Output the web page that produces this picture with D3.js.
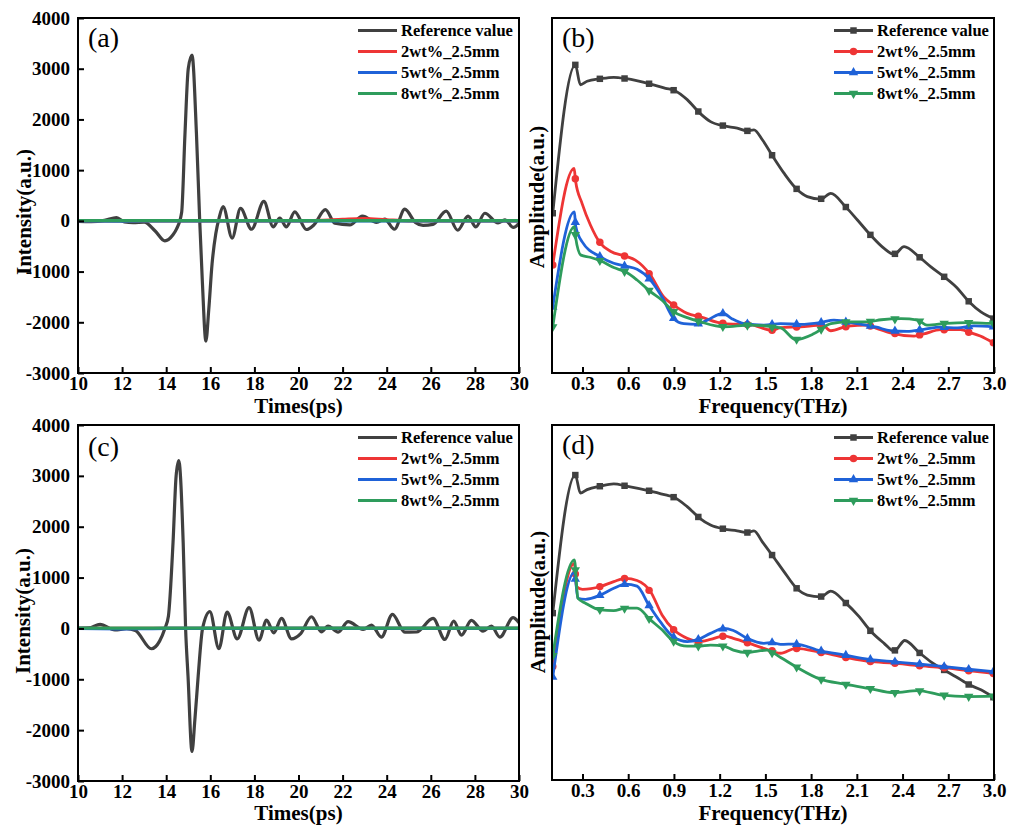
<!DOCTYPE html>
<html>
<head>
<meta charset="utf-8">
<script src="https://cdn.jsdelivr.net/npm/d3@7"></script>
<style>
  body { margin: 0; background: #fff; }
  text { font-family: "Liberation Serif", "Times New Roman", serif; }
</style>
</head>
<body>
<div id="chart"></div>
<script>
// ---- data ----
var seriesNames = ["Reference value", "2wt%_2.5mm", "5wt%_2.5mm", "8wt%_2.5mm"];
var timeTicks = [10, 12, 14, 16, 18, 20, 22, 24, 26, 28, 30];
var intensityTicks = [-3000, -2000, -1000, 0, 1000, 2000, 3000, 4000];
var freqTicks = [0.3, 0.6, 0.9, 1.2, 1.5, 1.8, 2.1, 2.4, 2.7, 3.0];
// frequencies where Origin drew the symbols
var markFreq = [0.105, 0.253, 0.414, 0.576, 0.737, 0.898, 1.06, 1.221, 1.382, 1.544, 1.705, 1.866, 2.028, 2.189, 2.35, 2.512, 2.673, 2.834, 2.996];

// (a) time domain, [ps, intensity]
var refA = [[10,-10],[10.6,-15],[11.2,10],[11.75,65],[12.1,-20],[12.5,-35],[13.0,-25],[13.5,-200],[13.94,-395],[14.3,-280],[14.47,-160],[14.7,165],[14.85,1700],[15.0,3000],[15.17,3270],[15.37,1740],[15.52,0],[15.64,-1200],[15.8,-2370],[15.93,-1750],[16.08,-850],[16.25,-250],[16.4,60],[16.58,283],[16.99,-340],[17.37,245],[17.87,-165],[18.43,383],[18.85,-118],[19.15,53],[19.45,-118],[19.83,178],[20.36,-170],[20.7,-80],[21.22,220],[21.65,-45],[22.33,-80],[22.9,95],[23.54,-30],[23.91,35],[24.35,-165],[24.82,230],[25.3,-30],[25.65,-90],[26.1,-70],[26.7,190],[27.22,-185],[27.69,95],[28.04,-118],[28.45,150],[29.05,-40],[29.36,20],[29.75,-130],[30,-50]];
var redA = [[10,0],[14,0],[20,0],[21,10],[22,30],[23,45],[24,20],[25,0],[30,0]];
var blueA = [[10,0],[12,-5],[14,0],[20,0],[30,0]];
var greenA = [[10,5],[15,5],[20,5],[25,5],[30,5]];

// (c) time domain
var refC = [[10,0],[10.5,10],[11.0,80],[11.67,-30],[12.2,-5],[12.6,-40],[13.33,-400],[13.7,-250],[13.94,0],[14.1,240],[14.31,1690],[14.45,3000],[14.57,3300],[14.77,1690],[14.88,0],[14.99,-940],[15.17,-2420],[15.3,-1800],[15.45,-940],[15.65,0],[15.98,330],[16.39,-400],[16.76,322],[17.22,-204],[17.76,408],[18.21,-230],[18.55,164],[18.88,-86],[19.23,197],[19.68,-204],[20.1,-100],[20.59,230],[21.04,-66],[21.34,46],[21.8,-72],[22.25,132],[22.93,-20],[23.31,66],[23.76,-171],[24.26,276],[24.82,-72],[25.35,-70],[26.1,197],[26.64,-217],[27.04,145],[27.39,-132],[27.84,158],[28.37,-53],[28.75,46],[29.13,-171],[29.73,211],[30,110]];
var redC = [[10,0],[15,0],[20,0],[25,0],[30,0]];
var blueC = [[10,0],[12,-8],[13,-5],[14,0],[30,0]];
var greenC = [[10,5],[15,5],[20,5],[25,5],[30,5]];

// (b) frequency domain, [THz, amplitude a.u.]
var refB = [[0.105,45],[0.253,86.8],[0.286,81.2],[0.33,82.2],[0.418,82.9],[0.505,83.3],[0.588,82.9],[0.746,81.4],[0.845,80.2],[0.904,79.6],[0.987,77.0],[1.07,73.2],[1.14,70.8],[1.228,69.6],[1.315,69.0],[1.381,68.2],[1.425,68.5],[1.48,65.7],[1.552,60.8],[1.622,56.3],[1.71,51.6],[1.775,49.7],[1.863,49.0],[1.929,50.6],[2.027,46.8],[2.104,43.1],[2.187,39.0],[2.279,35.1],[2.345,33.4],[2.41,35.6],[2.509,32.7],[2.586,29.9],[2.673,27.1],[2.75,24.3],[2.838,20.0],[2.914,17.2],[2.997,15.3]];
var redB = [[0.105,30.4],[0.245,57.6],[0.255,54],[0.297,47.8],[0.352,41.7],[0.418,36.5],[0.483,34.3],[0.582,32.9],[0.647,31.8],[0.746,27.6],[0.833,21.4],[0.899,19.1],[0.987,16.8],[1.074,15.8],[1.228,13.9],[1.40,13.6],[1.545,12.0],[1.60,12.8],[1.73,13.0],[1.874,13.5],[1.929,11.9],[2.04,13.2],[2.17,13.5],[2.235,12.5],[2.32,11.3],[2.476,10.4],[2.54,11.0],[2.65,12.2],[2.78,12.2],[2.85,11.3],[2.91,10.4],[3.0,8.4]];
var blueB = [[0.105,18.6],[0.247,45.4],[0.255,41.5],[0.297,37.0],[0.418,32.7],[0.505,30.9],[0.582,30.1],[0.658,29.2],[0.746,26.2],[0.822,21.4],[0.899,15.3],[0.965,13.9],[1.052,13.7],[1.118,14.9],[1.223,16.8],[1.28,15.3],[1.36,13.9],[1.49,13.5],[1.60,13.9],[1.73,13.7],[1.86,14.2],[1.95,14.9],[2.10,13.9],[2.23,12.9],[2.32,11.9],[2.43,11.7],[2.54,12.3],[2.65,12.9],[2.76,12.7],[2.87,13.3],[3.0,13.0]];
var greenB = [[0.105,13.0],[0.247,41.2],[0.255,38.2],[0.29,33.2],[0.35,32.6],[0.418,31.6],[0.505,29.7],[0.582,28.5],[0.658,26.2],[0.746,22.9],[0.822,20.5],[0.899,17.2],[0.987,15.6],[1.074,14.4],[1.228,13.0],[1.40,13.5],[1.60,12.7],[1.70,9.4],[1.82,11.1],[1.93,13.9],[2.04,14.4],[2.17,14.4],[2.26,15.0],[2.39,15.3],[2.50,14.9],[2.56,13.5],[2.69,14.0],[2.82,14.2],[2.95,14.0],[3.0,14.0]];

// (d) frequency domain
var refD = [[0.105,47.0],[0.253,85.9],[0.286,80.8],[0.33,81.8],[0.418,82.8],[0.505,83.4],[0.588,82.8],[0.746,81.4],[0.845,80.3],[0.904,79.6],[0.987,77.0],[1.07,73.7],[1.14,71.8],[1.228,70.7],[1.315,70.2],[1.381,69.7],[1.425,70.2],[1.48,67.1],[1.552,62.9],[1.622,58.7],[1.705,54.0],[1.775,52.1],[1.863,51.6],[1.929,53.2],[2.027,49.9],[2.115,46.0],[2.187,42.1],[2.279,38.5],[2.345,36.3],[2.415,39.3],[2.509,35.9],[2.586,33.3],[2.673,31.0],[2.75,29.1],[2.838,26.8],[2.914,25.4],[2.997,23.3]];
var redD = [[0.105,32],[0.247,61.0],[0.26,54.5],[0.30,53.7],[0.418,54.5],[0.505,55.9],[0.582,56.8],[0.658,56.2],[0.746,53.1],[0.822,46.5],[0.899,42.3],[0.987,39.9],[1.06,39.0],[1.14,39.6],[1.228,40.6],[1.29,39.9],[1.38,38.7],[1.49,37.1],[1.60,35.7],[1.70,37.1],[1.86,36.0],[2.02,34.6],[2.18,33.4],[2.345,32.9],[2.50,32.2],[2.66,31.7],[2.83,30.8],[3.0,30.0]];
var blueD = [[0.105,29],[0.247,58.5],[0.27,51.2],[0.32,50.9],[0.418,52.1],[0.505,54.0],[0.582,55.2],[0.658,54.6],[0.735,49.3],[0.81,44.6],[0.899,40.2],[0.987,39.0],[1.06,39.6],[1.14,41.3],[1.228,42.7],[1.29,42.1],[1.38,39.9],[1.49,38.5],[1.545,38.7],[1.60,38.2],[1.70,38.3],[1.86,36.4],[2.02,35.2],[2.18,34.0],[2.345,33.3],[2.50,32.7],[2.66,32.0],[2.83,31.2],[3.0,30.5]];
var greenD = [[0.105,35],[0.247,62.0],[0.27,51.2],[0.32,49.8],[0.418,47.9],[0.505,47.7],[0.582,48.4],[0.658,48.4],[0.746,45.1],[0.822,42.3],[0.899,39.0],[0.987,37.7],[1.06,37.7],[1.14,38.0],[1.228,37.7],[1.29,36.6],[1.38,35.9],[1.45,36.3],[1.51,36.6],[1.60,34.5],[1.70,31.9],[1.86,28.4],[2.02,27.0],[2.18,25.8],[2.345,24.6],[2.50,25.2],[2.66,23.9],[2.83,23.5],[3.0,23.6]];

// ---- drawing ----
var w = 1009;
var h = 828;
var colors = ["#404040", "#ee3535", "#1f62d8", "#2e9c5c"];
var symbols = [d3.symbolSquare, d3.symbolCircle, d3.symbolTriangle, d3.symbolTriangle];
var symSize = [42, 44, 38, 38];

var svg = d3.select("#chart")
  .append("svg")
  .attr("width", w)
  .attr("height", h);

svg.append("rect").attr("width", w).attr("height", h).attr("fill", "#fff");

var clipCount = 0;

function styleAxis(sel) {
  sel.select(".domain").remove();
  sel.selectAll(".tick line").attr("stroke", "#000").attr("stroke-width", 2);
  sel.selectAll(".tick text")
    .attr("fill", "#000")
    .style("font-family", "'Liberation Serif', 'Times New Roman', serif")
    .style("font-weight", "bold")
    .style("font-size", "19px");
}

function panel(box, opt) {
  var g = svg.append("g");
  var id = "clip" + (clipCount++);
  g.append("clipPath").attr("id", id)
    .append("rect")
    .attr("x", box.left).attr("y", box.top)
    .attr("width", box.right - box.left).attr("height", box.bottom - box.top);

  var x = d3.scaleLinear().domain(opt.xDomain).range([box.left, box.right]);
  var y = d3.scaleLinear().domain(opt.yDomain).range([box.bottom, box.top]);

  var line = d3.line()
    .x(function(d) { return x(d[0]); })
    .y(function(d) { return y(d[1]); })
    .curve(d3.curveMonotoneX);

  var plot = g.append("g").attr("clip-path", "url(#" + id + ")");

  opt.series.forEach(function(s, i) {
    plot.append("path")
      .datum(s)
      .attr("d", line)
      .attr("fill", "none")
      .attr("stroke", colors[i])
      .attr("stroke-width", opt.markers ? 2.8 : 3.2)
      .attr("stroke-linejoin", "round");

    if (opt.markers) {
      // symbols sit on the line at the marker frequencies
      var bis = d3.bisector(function(d) { return d[0]; }).left;
      var pts = markFreq.map(function(f) {
        var k = Math.max(1, Math.min(s.length - 1, bis(s, f)));
        var a = s[k - 1], b = s[k];
        var t = Math.max(0, Math.min(1, (f - a[0]) / (b[0] - a[0])));
        return [f, a[1] + t * (b[1] - a[1])];
      });
      plot.selectAll(null)
        .data(pts)
        .enter()
        .append("path")
        .attr("d", d3.symbol().type(symbols[i]).size(symSize[i]))
        .attr("transform", function(d) {
          return "translate(" + x(d[0]) + "," + y(d[1]) + ")" + (i == 3 ? " rotate(180)" : "");
        })
        .attr("fill", colors[i]);
    }
  });

  // axes with inward ticks
  var xAxis = d3.axisBottom(x)
    .tickValues(opt.xTicks)
    .tickFormat(opt.xFormat)
    .tickSizeInner(-6)
    .tickSizeOuter(0)
    .tickPadding(4);
  g.append("g")
    .attr("transform", "translate(0," + box.bottom + ")")
    .call(xAxis)
    .call(styleAxis);

  if (opt.yTicks) {
    var yAxis = d3.axisLeft(y)
      .tickValues(opt.yTicks)
      .tickFormat(function(d) { return String(d); })
      .tickSizeInner(-6)
      .tickSizeOuter(0)
      .tickPadding(8);
    g.append("g")
      .attr("transform", "translate(" + box.left + ",0)")
      .call(yAxis)
      .call(styleAxis);
  }

  // frame
  g.append("rect")
    .attr("x", box.left).attr("y", box.top)
    .attr("width", box.right - box.left).attr("height", box.bottom - box.top)
    .attr("fill", "none")
    .attr("stroke", "#000")
    .attr("stroke-width", 2);

  // axis titles
  g.append("text")
    .attr("x", (box.left + box.right) / 2)
    .attr("y", box.bottom + opt.xTitleDy)
    .attr("text-anchor", "middle")
    .style("font-weight", "bold")
    .style("font-size", "21px")
    .text(opt.xTitle);

  g.append("text")
    .attr("transform", "translate(" + opt.yTitleX + "," + (box.top + opt.yTitleDy) + ") rotate(-90)")
    .attr("text-anchor", "middle")
    .style("font-weight", "bold")
    .style("font-size", "21px")
    .text(opt.yTitle);

  // panel letter
  g.append("text")
    .attr("x", box.left + 10)
    .attr("y", box.top + opt.letterDy)
    .style("font-size", "28px")
    .text(opt.letter);

  // legend
  var lg = g.append("g");
  seriesNames.forEach(function(name, i) {
    var ly = box.top + 12.5 + i * 21;
    lg.append("line")
      .attr("x1", opt.legX).attr("x2", opt.legX + 39)
      .attr("y1", ly).attr("y2", ly)
      .attr("stroke", colors[i])
      .attr("stroke-width", 3);
    if (opt.markers) {
      lg.append("path")
        .attr("d", d3.symbol().type(symbols[i]).size(symSize[i]))
        .attr("transform", "translate(" + (opt.legX + 19.5) + "," + ly + ")" + (i == 3 ? " rotate(180)" : ""))
        .attr("fill", colors[i]);
    }
    lg.append("text")
      .attr("x", opt.legX + 43)
      .attr("y", ly)
      .attr("dy", "0.33em")
      .style("font-weight", "bold")
      .style("font-size", "16.5px")
      .text(name);
  });
}

var timeOpt = {
  xDomain: [10, 30], yDomain: [-3000, 4000],
  xTicks: timeTicks, xFormat: function(d) { return String(d); },
  yTicks: intensityTicks,
  xTitle: "Times(ps)", yTitle: "Intensity(a.u.)",
  legX: 358, markers: false
};
var freqOpt = {
  xDomain: [0.1, 3.0], yDomain: [0, 100],
  xTicks: freqTicks, xFormat: d3.format(".1f"),
  yTicks: null,
  xTitle: "Frequency(THz)", yTitle: "Amplitude(a.u.)",
  legX: 834, markers: true
};

panel({left: 78, right: 519, top: 18, bottom: 373},
  Object.assign({}, timeOpt, {series: [refA, redA, blueA, greenA], letter: "(a)", letterDy: 29,
    xTitleDy: 40, yTitleX: 31, yTitleDy: 194}));
panel({left: 552, right: 994, top: 18, bottom: 373},
  Object.assign({}, freqOpt, {series: [refB, redB, blueB, greenB], letter: "(b)", letterDy: 29,
    xTitleDy: 40, yTitleX: 544, yTitleDy: 179}));
panel({left: 78, right: 519, top: 425, bottom: 781},
  Object.assign({}, timeOpt, {series: [refC, redC, blueC, greenC], letter: "(c)", letterDy: 31,
    xTitleDy: 39, yTitleX: 30, yTitleDy: 186}));
panel({left: 552, right: 994, top: 425, bottom: 780},
  Object.assign({}, freqOpt, {series: [refD, redD, blueD, greenD], letter: "(d)", letterDy: 29,
    xTitleDy: 40, yTitleX: 545, yTitleDy: 177}));
</script>
</body>
</html>
